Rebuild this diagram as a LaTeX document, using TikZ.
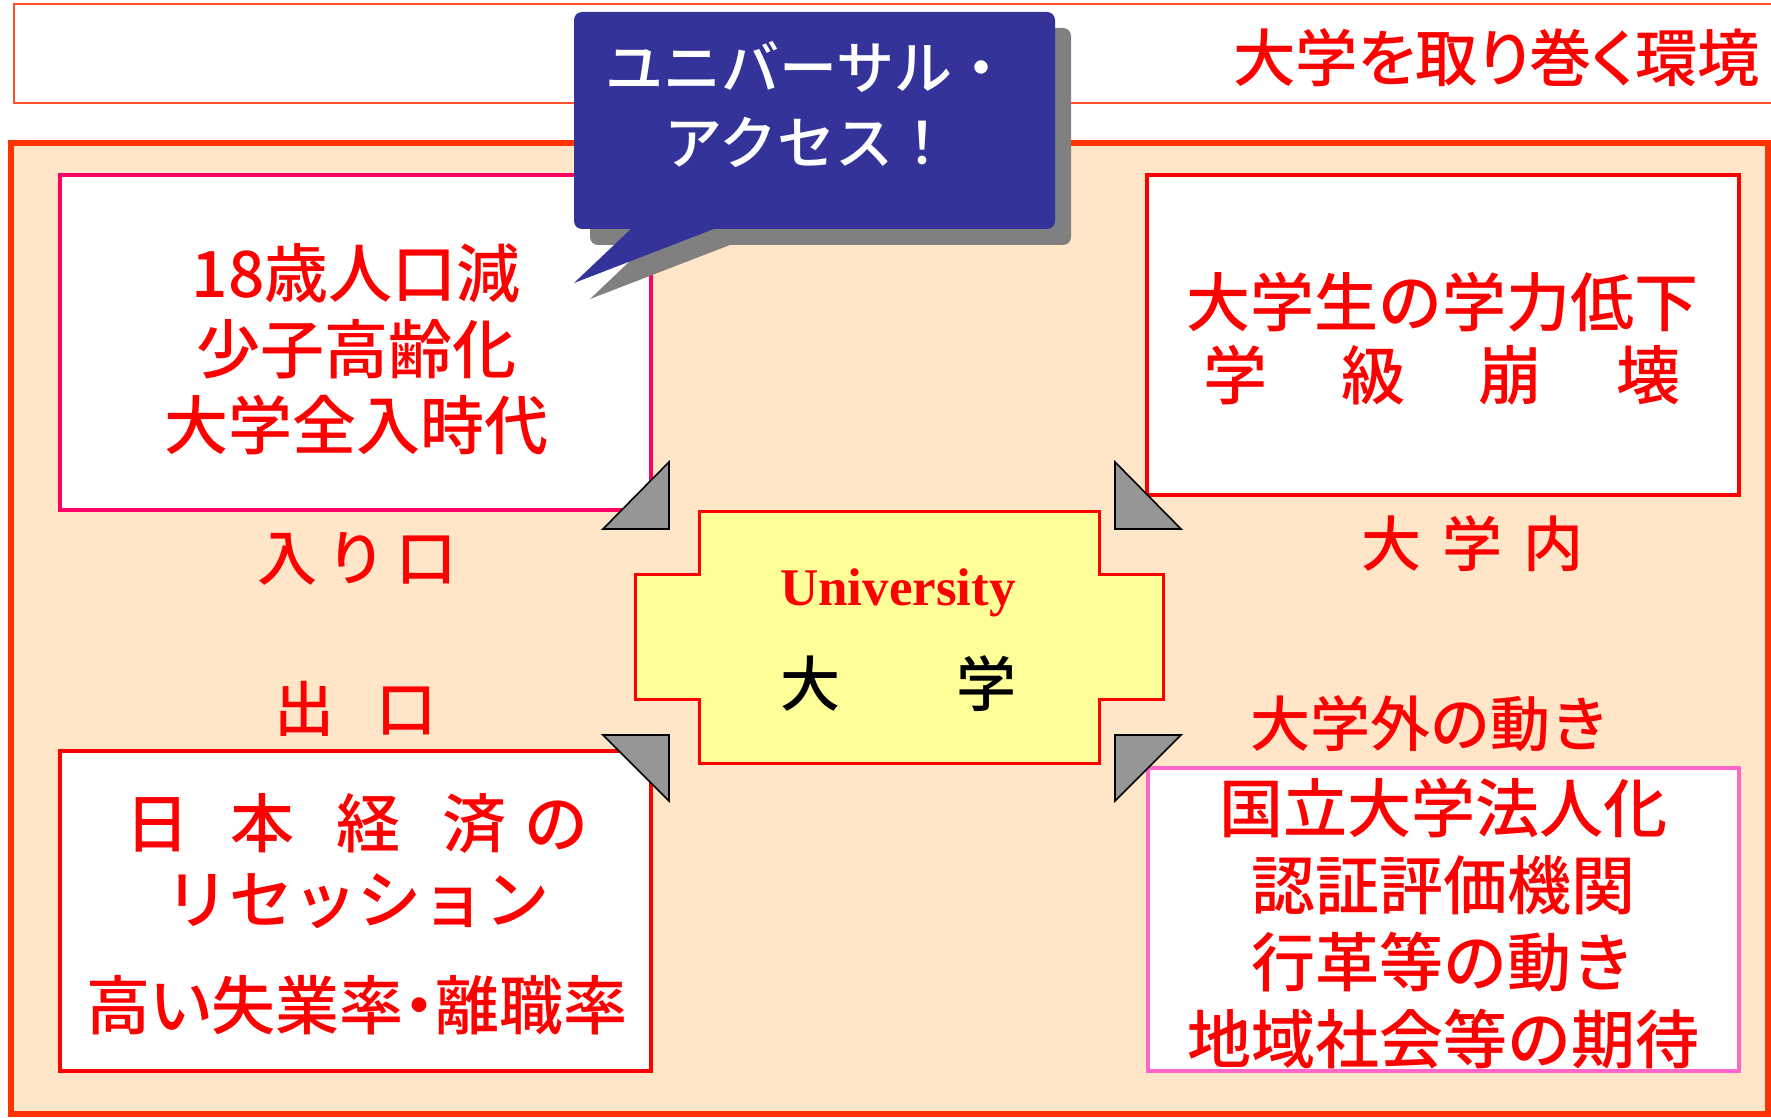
\documentclass[tikz,border=0pt]{standalone}
\usepackage{fontspec}
\newfontfamily\jp{Noto Sans CJK JP}[UprightFont=* Medium]
\newfontfamily\jpp{Noto Sans CJK JP}[UprightFont=* Medium, RawFeature=+palt]
\newfontfamily\serifb{Liberation Serif}
\definecolor{hdrline}{HTML}{FF5028}
\definecolor{mainfill}{HTML}{FFE6C8}
\definecolor{mainline}{HTML}{FF3300}
\definecolor{tlline}{HTML}{FF0066}
\definecolor{redline}{HTML}{FF0000}
\definecolor{pinkline}{HTML}{FF66CC}
\definecolor{cblue}{HTML}{333399}
\definecolor{cshadow}{HTML}{808080}
\definecolor{trigray}{HTML}{969696}
\definecolor{yel}{HTML}{FFFF99}
\tikzset{
  jpt/.style={inner sep=0pt, outer sep=0pt, text=redline, align=center},
  bigjp/.style={font={\jp\fontsize{32}{38}\selectfont}},
  lbljp/.style={font={\jp\fontsize{30}{36}\selectfont}},
  whitebox/.style={fill=white, line width=2pt},
  tri/.style={fill=trigray, draw=black, line width=0.8pt, line join=miter},
}
\begin{document}
\begin{tikzpicture}[x=0.5pt,y=-0.5pt]
\useasboundingbox (0,0) rectangle (1771,1118);
\clip (0,0) rectangle (1771,1118);
\fill[white] (0,0) rectangle (1771,1118);
% header
\draw[hdrline, line width=1pt] (14,4) rectangle (1800,103);
\node[jpt, anchor=east, font={\jpp\fontsize{31.2}{36}\selectfont}] (title) at (1760,58) {大学を取り巻く環境};
% main area
\draw[mainline, fill=mainfill, line width=3pt] (11,143) rectangle (1768,1114);
% four boxes
\draw[whitebox, draw=tlline] (60,175) rectangle (651,510);
\draw[whitebox, draw=redline] (1147,175) rectangle (1738.5,494.5);
\draw[whitebox, draw=redline] (59.5,751) rectangle (650.5,1070.5);
\draw[whitebox, draw=pinkline] (1147.5,767.5) rectangle (1739,1070.5);
% centre shape
\draw[line width=1.5pt, draw=redline, fill=yel] (699,511) -- (1099.5,511) -- (1099.5,574.5) -- (1163.5,574.5) -- (1163.5,699.5) -- (1099.5,699.5) -- (1099.5,763) -- (699,763) -- (699,699.5) -- (635,699.5) -- (635,574.5) -- (699,574.5) -- cycle;
% corner triangles
\draw[tri] (603,529) -- (669,462) -- (669,529) -- cycle;
\draw[tri] (1115,462) -- (1181,529) -- (1115,529) -- cycle;
\draw[tri] (603,735) -- (669,735) -- (669,801) -- cycle;
\draw[tri] (1115,735) -- (1181,735) -- (1115,801) -- cycle;
% texts in boxes
\node[jpt, bigjp] (tltext) at (356,349) {18歳人口減\\少子高齢化\\大学全入時代};
\node[jpt, font={\jp\fontsize{32}{36.5}\selectfont}] (trtext) at (1442,338.5) {大学生の学力低下\\学\hspace{37pt}級\hspace{37pt}崩\hspace{37pt}壊};
\node[jpt, bigjp] (bltext) at (357,914) {日\hspace{21pt}本\hspace{21pt}経\hspace{21pt}済\hspace{9pt}の\\リセッション\\[15pt]{\jpp 高い失業率・離職率}};
\node[jpt, font={\jp\fontsize{32}{38.5}\selectfont}] (brtext) at (1443,923.5) {国立大学法人化\\認証評価機関\\行革等の動き\\地域社会等の期待};
% labels
\node[jpt, lbljp] (lblin) at (357,559) {入\hspace{5pt}り\hspace{5pt}口};
\node[jpt, lbljp] (lblout) at (355,709) {出\hspace{21pt}口};
\node[jpt, lbljp] (lblinside) at (1472,544) {大\hspace{10.5pt}学\hspace{10.5pt}内};
\node[jpt, lbljp] (lbloutside) at (1430,724) {大学外の動き};
% centre texts
\node[jpt, anchor=base, font={\serifb\bfseries\fontsize{26.5}{30}\selectfont}] (univ) at (898,605) {University};
\node[jpt, text=black, font={\jp\fontsize{30}{36}\selectfont}] (daigaku) at (898.5,684) {大\hspace{58pt}学};
% callout
\fill[cshadow, rounded corners=4pt] (590,28) rectangle (1071,245);
\fill[cshadow] (649,243) -- (590,299) -- (735,243) -- cycle;
\fill[cblue, rounded corners=4pt] (574,12) rectangle (1055,229);
\fill[cblue] (633,227) -- (574,283) -- (719,227) -- cycle;
\node[jpt, text=white, font={\jp\fontsize{29}{37.5}\selectfont}] (callout) at (808,104.5) {ユニバーサル・\\アクセス！};
\end{tikzpicture}
\end{document}
